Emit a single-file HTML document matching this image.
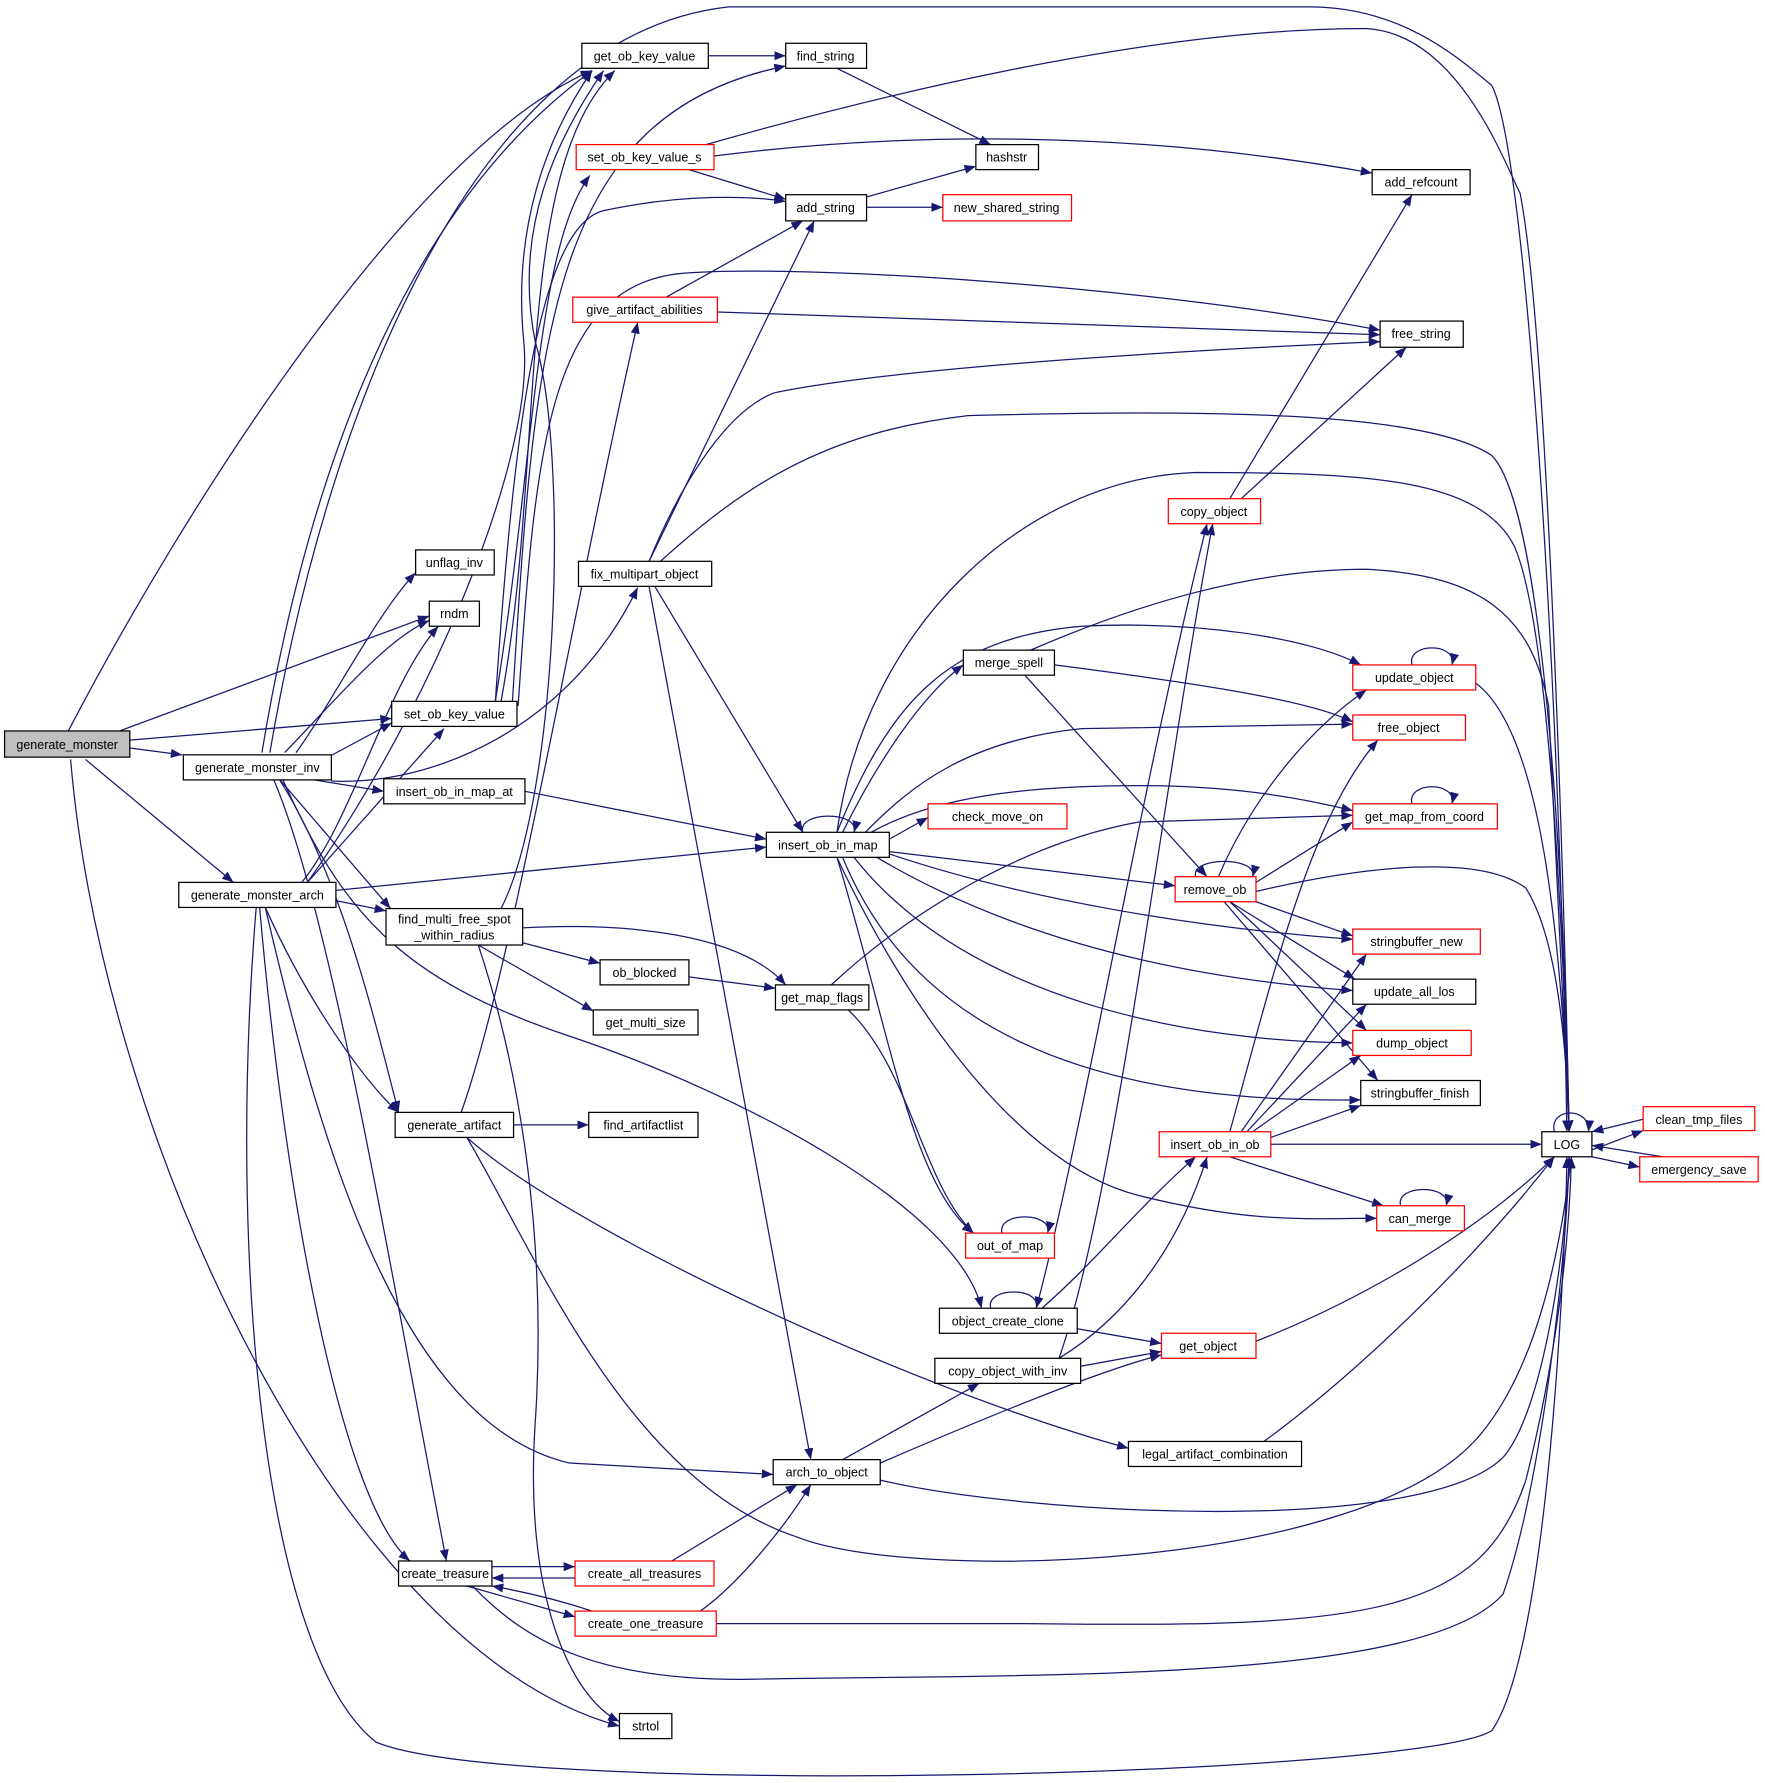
<!DOCTYPE html>
<html><head><meta charset="utf-8"><style>
html,body{margin:0;padding:0;background:#fff;}
svg{display:block;}
text{font-family:"Liberation Sans",Arial,sans-serif;font-size:11px;fill:#000;text-anchor:middle;}
.e{fill:none;stroke:#191970;stroke-width:1.1;marker-end:url(#a);}
.n{fill:#fff;stroke:#000;stroke-width:1.1;}
.r{fill:#fff;stroke:#f00;stroke-width:1.1;}
</style></head><body>
<svg width="1765" height="1783" viewBox="0 0 1550 1566" preserveAspectRatio="none" xmlns="http://www.w3.org/2000/svg">
<defs><marker id="a" markerUnits="userSpaceOnUse" markerWidth="11" markerHeight="8" refX="10" refY="4" orient="auto"><path d="M0,0 L10,4 L0,8 z" fill="#191970"/></marker></defs>
<g>
<path class="e" d="M60,642 C160,450 360,130 520,62"/>
<path class="e" d="M105,642 L377,541"/>
<path class="e" d="M114,650 L344,631"/>
<path class="e" d="M114,657 L160,663"/>
<path class="e" d="M75,667 L205,775"/>
<path class="e" d="M62,667 C90,1000 300,1450 544,1516"/>
<path class="e" d="M230,661 C260,480 330,200 520,62"/>
<path class="e" d="M237,661 C290,350 420,30 640,6 L1150,6 C1230,6 1280,50 1310,75 C1340,130 1370,600 1376,994"/>
<path class="e" d="M260,661 C290,620 330,540 365,503"/>
<path class="e" d="M250,661 C290,620 340,560 377,545"/>
<path class="e" d="M290,664 L344,635"/>
<path class="e" d="M270,684 L337,695"/>
<path class="e" d="M245,684 L343,798"/>
<path class="e" d="M291,686 C380,690 500,640 560,516"/>
<path class="e" d="M245,684 C300,770 330,900 350,977"/>
<path class="e" d="M240,684 C290,800 340,1100 392,1371"/>
<path class="e" d="M248,684 C300,800 350,860 500,910 C650,960 840,1060 862,1149"/>
<path class="e" d="M270,775 C380,620 470,400 460,300 C450,200 480,120 520,62"/>
<path class="e" d="M270,775 L390,640"/>
<path class="e" d="M265,775 C310,720 340,600 385,550"/>
<path class="e" d="M295,782 L673,744"/>
<path class="e" d="M295,791 L339,800"/>
<path class="e" d="M233,797 C270,880 320,950 350,977"/>
<path class="e" d="M233,797 C280,1000 350,1250 500,1285 L679,1295"/>
<path class="e" d="M228,797 C250,1050 300,1320 360,1371"/>
<path class="e" d="M225,797 C200,1100 230,1450 330,1530 C450,1580 1250,1560 1310,1520 C1360,1450 1375,1100 1376,1016"/>
<path class="e" d="M622,49 L690,49"/>
<path class="e" d="M735,60 L870,127"/>
<path class="e" d="M605,149 L690,175"/>
<path class="e" d="M627,137 C800,115 1000,115 1205,152"/>
<path class="e" d="M620,127 C750,90 1000,25 1200,25 C1280,30 1320,140 1335,170 C1360,300 1374,800 1378,994"/>
<path class="e" d="M761,173 L857,146"/>
<path class="e" d="M761,182 L828,182"/>
<path class="e" d="M585,261 L705,194"/>
<path class="e" d="M630,274 L1212,294"/>
<path class="e" d="M570,493 L715,194"/>
<path class="e" d="M570,493 C600,420 640,360 680,345 C800,320 1100,305 1212,300"/>
<path class="e" d="M580,493 C650,430 720,380 850,365 C1050,360 1250,360 1310,400 C1350,440 1372,700 1378,994"/>
<path class="e" d="M575,515 L705,731"/>
<path class="e" d="M570,515 L712,1282"/>
<path class="e" d="M435,616 C470,400 470,220 518,154"/>
<path class="e" d="M440,616 C480,400 450,150 540,62"/>
<path class="e" d="M435,616 C450,400 470,200 530,185 C600,170 660,172 690,177"/>
<path class="e" d="M455,620 C470,400 480,250 600,240 C700,232 1000,250 1212,290"/>
<path class="e" d="M450,616 C470,300 480,100 690,58"/>
<path class="e" d="M440,798 C490,700 500,400 470,300 C450,200 490,120 530,62"/>
<path class="e" d="M459,828 L527,846"/>
<path class="e" d="M420,830 L521,888"/>
<path class="e" d="M459,815 C550,810 650,820 690,865"/>
<path class="e" d="M420,830 C460,950 480,1100 470,1250 C460,1400 500,1490 544,1512"/>
<path class="e" d="M605,858 L681,868"/>
<path class="e" d="M730,865 C800,800 900,740 1000,722 L1188,716"/>
<path class="e" d="M745,887 C800,940 810,1040 855,1083"/>
<path class="e" d="M451,988 L517,988"/>
<path class="e" d="M405,977 C450,850 500,550 560,283"/>
<path class="e" d="M410,999 C500,1080 800,1220 991,1272"/>
<path class="e" d="M410,999 C470,1100 550,1300 700,1350 C800,1390 1200,1380 1300,1260 C1350,1200 1370,1100 1380,1016"/>
<path class="e" d="M461,695 L673,737"/>
<path class="e" d="M705,731 C700,712 755,712 750,731"/>
<path class="e" d="M781,737 L815,718"/>
<path class="e" d="M740,731 C770,670 810,610 846,584"/>
<path class="e" d="M735,731 C780,620 830,560 950,550 C1050,545 1150,560 1195,584"/>
<path class="e" d="M760,731 C800,690 850,650 950,640 L1188,636"/>
<path class="e" d="M765,731 C820,700 900,690 1000,690 C1080,690 1140,700 1188,712"/>
<path class="e" d="M781,748 L1032,778"/>
<path class="e" d="M781,750 C900,790 1050,815 1188,825"/>
<path class="e" d="M770,753 C900,830 1050,860 1188,870"/>
<path class="e" d="M750,753 C850,880 1050,915 1188,916"/>
<path class="e" d="M740,753 C800,900 950,970 1195,966"/>
<path class="e" d="M735,753 C780,850 880,1020 1000,1050 C1100,1075 1150,1070 1209,1070"/>
<path class="e" d="M735,753 C780,900 800,1040 855,1083"/>
<path class="e" d="M735,731 C760,550 900,420 1050,415 C1200,415 1300,420 1330,480 C1360,550 1372,800 1378,994"/>
<path class="e" d="M905,571 C1000,530 1100,500 1200,500 C1300,505 1345,540 1360,620 L1378,994"/>
<path class="e" d="M926,584 C1050,600 1150,615 1188,634"/>
<path class="e" d="M900,593 L1060,770"/>
<path class="e" d="M1240,584 C1235,564 1280,564 1275,584"/>
<path class="e" d="M1296,600 C1350,640 1370,800 1378,994"/>
<path class="e" d="M1240,706 C1235,686 1280,686 1275,706"/>
<path class="e" d="M1050,770 C1045,752 1105,752 1100,770"/>
<path class="e" d="M1070,770 C1100,700 1150,640 1200,606"/>
<path class="e" d="M1103,775 L1188,722"/>
<path class="e" d="M1103,783 C1200,760 1300,750 1340,780 C1365,820 1375,900 1378,994"/>
<path class="e" d="M1103,792 L1188,822"/>
<path class="e" d="M1080,792 L1190,860"/>
<path class="e" d="M1080,792 L1200,905"/>
<path class="e" d="M1075,792 L1210,949"/>
<path class="e" d="M1080,994 C1120,850 1150,720 1210,650"/>
<path class="e" d="M1090,994 L1200,838"/>
<path class="e" d="M1095,994 L1200,882"/>
<path class="e" d="M1100,994 L1195,927"/>
<path class="e" d="M1116,999 L1195,971"/>
<path class="e" d="M1116,1005 L1354,1005"/>
<path class="e" d="M1080,1016 L1215,1059"/>
<path class="e" d="M1080,438 L1240,171"/>
<path class="e" d="M1090,438 L1235,305"/>
<path class="e" d="M870,1149 C865,1130 915,1130 910,1149"/>
<path class="e" d="M910,1149 C950,1000 1000,700 1060,460"/>
<path class="e" d="M915,1149 C960,1110 1000,1060 1050,1016"/>
<path class="e" d="M946,1167 L1020,1180"/>
<path class="e" d="M930,1193 C980,1050 1020,700 1065,460"/>
<path class="e" d="M930,1193 C1000,1150 1040,1080 1060,1016"/>
<path class="e" d="M949,1200 L1020,1187"/>
<path class="e" d="M1103,1178 C1200,1140 1300,1080 1365,1016"/>
<path class="e" d="M1110,1266 C1200,1200 1300,1100 1365,1016"/>
<path class="e" d="M740,1282 L860,1215"/>
<path class="e" d="M773,1285 C900,1230 980,1200 1020,1190"/>
<path class="e" d="M773,1300 C900,1330 1250,1350 1320,1280 C1355,1240 1375,1100 1378,1016"/>
<path class="e" d="M432,1376 L505,1376"/>
<path class="e" d="M505,1386 L432,1386"/>
<path class="e" d="M410,1393 L505,1420"/>
<path class="e" d="M520,1415 C490,1405 460,1398 432,1393"/>
<path class="e" d="M415,1393 C460,1440 520,1475 650,1475 C900,1470 1250,1480 1320,1400 C1355,1300 1376,1100 1378,1016"/>
<path class="e" d="M590,1371 L700,1304"/>
<path class="e" d="M615,1415 C650,1390 690,1340 712,1304"/>
<path class="e" d="M629,1426 L900,1426 C1200,1430 1300,1420 1340,1300 C1365,1200 1378,1100 1380,1016"/>
<path class="e" d="M880,1083 C875,1064 925,1064 920,1083"/>
<path class="e" d="M1230,1059 C1225,1040 1275,1040 1270,1059"/>
<path class="e" d="M1365,994 C1360,972 1397,972 1395,994"/>
<path class="e" d="M1398,1010 L1443,993"/>
<path class="e" d="M1443,983 L1398,994"/>
<path class="e" d="M1460,1016 L1398,1006"/>
<path class="e" d="M1398,1016 L1440,1025"/>
</g>
<g>
<rect x="4" y="642" width="110" height="23" fill="#bfbfbf" stroke="#000" stroke-width="1.1"/><text x="59" y="658">generate_monster</text>
<rect class="n" x="161" y="663" width="130" height="22"/><text x="226" y="678">generate_monster_inv</text>
<rect class="n" x="157" y="775" width="138" height="22"/><text x="226" y="790">generate_monster_arch</text>
<rect class="n" x="511" y="38" width="111" height="22"/><text x="566" y="53">get_ob_key_value</text>
<rect class="n" x="690" y="38" width="71" height="22"/><text x="725" y="53">find_string</text>
<rect class="r" x="506" y="127" width="121" height="22"/><text x="566" y="142">set_ob_key_value_s</text>
<rect class="n" x="857" y="127" width="55" height="22"/><text x="884" y="142">hashstr</text>
<rect class="n" x="690" y="171" width="71" height="23"/><text x="725" y="186">add_string</text>
<rect class="r" x="828" y="171" width="113" height="23"/><text x="884" y="186">new_shared_string</text>
<rect class="n" x="1205" y="149" width="86" height="22"/><text x="1248" y="164">add_refcount</text>
<rect class="r" x="503" y="261" width="127" height="22"/><text x="566" y="276">give_artifact_abilities</text>
<rect class="n" x="1212" y="282" width="73" height="23"/><text x="1248" y="297">free_string</text>
<rect class="r" x="1026" y="438" width="81" height="22"/><text x="1066" y="453">copy_object</text>
<rect class="n" x="365" y="483" width="69" height="22"/><text x="399" y="498">unflag_inv</text>
<rect class="n" x="508" y="493" width="117" height="22"/><text x="566" y="508">fix_multipart_object</text>
<rect class="n" x="377" y="528" width="44" height="22"/><text x="399" y="543">rndm</text>
<rect class="n" x="846" y="571" width="80" height="22"/><text x="886" y="586">merge_spell</text>
<rect class="r" x="1188" y="584" width="108" height="22"/><text x="1242" y="599">update_object</text>
<rect class="n" x="344" y="616" width="110" height="22"/><text x="399" y="631">set_ob_key_value</text>
<rect class="r" x="1188" y="628" width="99" height="22"/><text x="1237" y="643">free_object</text>
<rect class="n" x="337" y="684" width="124" height="22"/><text x="399" y="699">insert_ob_in_map_at</text>
<rect class="r" x="815" y="706" width="122" height="22"/><text x="876" y="721">check_move_on</text>
<rect class="r" x="1188" y="706" width="127" height="22"/><text x="1251" y="721">get_map_from_coord</text>
<rect class="n" x="673" y="731" width="108" height="22"/><text x="727" y="746">insert_ob_in_map</text>
<rect class="r" x="1032" y="770" width="71" height="22"/><text x="1067" y="785">remove_ob</text>
<rect class="n" x="339" y="798" width="120" height="32"/><text x="399" y="811">find_multi_free_spot</text><text x="399" y="825">_within_radius</text>
<rect class="r" x="1188" y="816" width="112" height="22"/><text x="1244" y="831">stringbuffer_new</text>
<rect class="n" x="527" y="843" width="78" height="22"/><text x="566" y="858">ob_blocked</text>
<rect class="n" x="1188" y="860" width="108" height="22"/><text x="1242" y="875">update_all_los</text>
<rect class="n" x="681" y="865" width="82" height="22"/><text x="722" y="880">get_map_flags</text>
<rect class="n" x="521" y="887" width="92" height="22"/><text x="567" y="902">get_multi_size</text>
<rect class="r" x="1188" y="905" width="104" height="22"/><text x="1240" y="920">dump_object</text>
<rect class="n" x="1195" y="949" width="105" height="22"/><text x="1247" y="964">stringbuffer_finish</text>
<rect class="r" x="1443" y="972" width="98" height="21"/><text x="1492" y="987">clean_tmp_files</text>
<rect class="n" x="347" y="977" width="104" height="22"/><text x="399" y="992">generate_artifact</text>
<rect class="n" x="517" y="977" width="96" height="22"/><text x="565" y="992">find_artifactlist</text>
<rect class="n" x="1354" y="994" width="44" height="22"/><text x="1376" y="1009">LOG</text>
<rect class="r" x="1018" y="994" width="98" height="22"/><text x="1067" y="1009">insert_ob_in_ob</text>
<rect class="r" x="1440" y="1016" width="104" height="22"/><text x="1492" y="1031">emergency_save</text>
<rect class="r" x="1209" y="1059" width="77" height="22"/><text x="1247" y="1074">can_merge</text>
<rect class="r" x="848" y="1083" width="78" height="22"/><text x="887" y="1098">out_of_map</text>
<rect class="n" x="825" y="1149" width="121" height="22"/><text x="885" y="1164">object_create_clone</text>
<rect class="r" x="1020" y="1171" width="83" height="22"/><text x="1061" y="1186">get_object</text>
<rect class="n" x="821" y="1193" width="128" height="22"/><text x="885" y="1208">copy_object_with_inv</text>
<rect class="n" x="991" y="1266" width="152" height="22"/><text x="1067" y="1281">legal_artifact_combination</text>
<rect class="n" x="679" y="1282" width="94" height="22"/><text x="726" y="1297">arch_to_object</text>
<rect class="n" x="350" y="1371" width="82" height="22"/><text x="391" y="1386">create_treasure</text>
<rect class="r" x="505" y="1371" width="122" height="22"/><text x="566" y="1386">create_all_treasures</text>
<rect class="r" x="505" y="1415" width="124" height="22"/><text x="567" y="1430">create_one_treasure</text>
<rect class="n" x="544" y="1505" width="46" height="22"/><text x="567" y="1520">strtol</text>
</g>
</svg>
</body></html>
